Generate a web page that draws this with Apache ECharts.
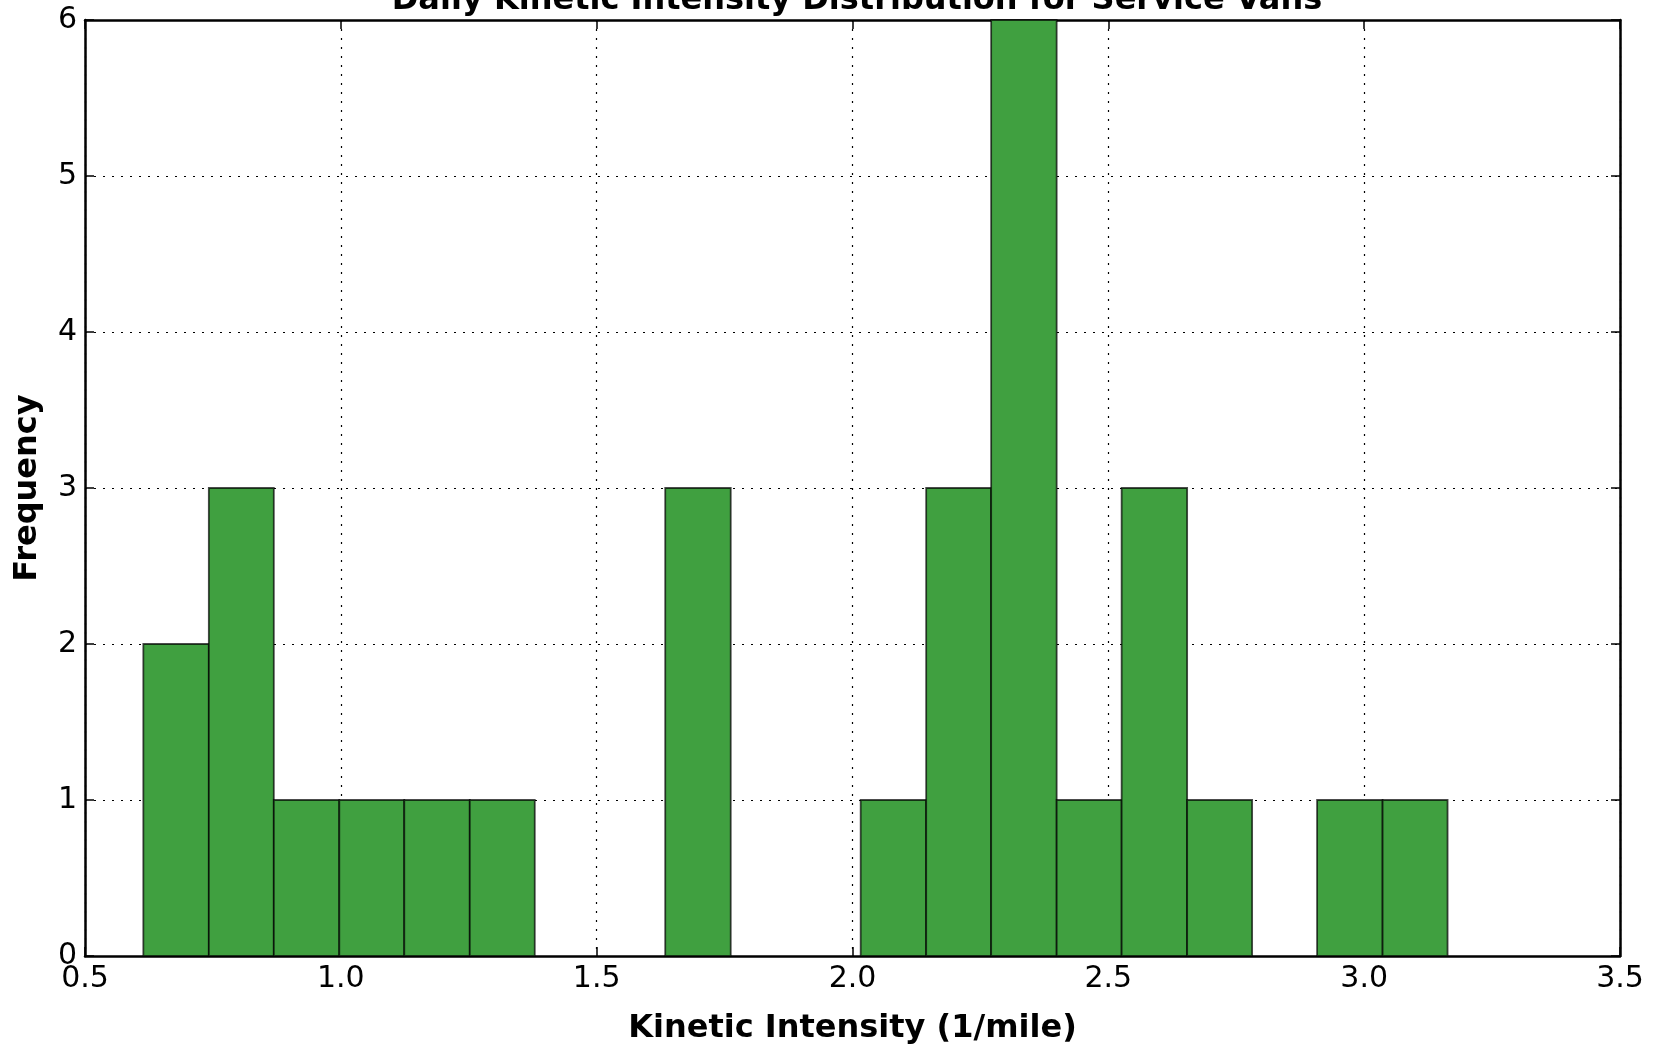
<!DOCTYPE html>
<html>
<head>
<meta charset="utf-8">
<script src="https://cdn.jsdelivr.net/npm/echarts@6/dist/echarts.min.js"></script>
<style>
html,body{margin:0;padding:0;background:#fff;}
#chart{width:1667px;height:1046px;}
</style>
</head>
<body>
<div id="chart"></div>
<script>
// Histogram bins
var binStart = [0.614, 0.742, 0.869, 0.997, 1.124, 1.252, 1.379, 1.507, 1.634, 1.762, 1.889, 2.016, 2.144, 2.271, 2.399, 2.526, 2.654, 2.781, 2.908, 3.036];
var binEnd   = [0.742, 0.869, 0.997, 1.124, 1.252, 1.379, 1.507, 1.634, 1.762, 1.889, 2.016, 2.144, 2.271, 2.399, 2.526, 2.654, 2.781, 2.908, 3.036, 3.163];
var counts   = [2, 3, 1, 1, 1, 1, 0, 0, 3, 0, 0, 1, 3, 6, 1, 3, 1, 0, 1, 1];
var xTicks = [0.5, 1.0, 1.5, 2.0, 2.5, 3.0, 3.5];
var yTicks = [0, 1, 2, 3, 4, 5, 6];

var titleText = 'Daily Kinetic Intensity Distribution for Service Vans';
var xLabel = 'Kinetic Intensity (1/mile)';
var yLabel = 'Frequency';

var data = [];
for (var i = 0; i < counts.length; i++) {
  if (counts[i] > 0) data.push([binStart[i], binEnd[i], counts[i]]);
}

var FONT = 'DejaVu Sans';
var chart = echarts.init(document.getElementById('chart'), null, {renderer: 'canvas'});

var gridLine = {show: true, lineStyle: {color: '#000', width: 1.2, type: [2, 7]}};
var frameLine = {show: true, onZero: false, lineStyle: {color: '#000', width: 2.5}};
var inTick = {show: true, inside: true, length: 9, lineStyle: {color: '#000', width: 1.5}};

var option = {
  backgroundColor: '#fff',
  animation: false,
  title: {
    text: titleText,
    left: 852, textAlign: 'center',
    top: -20,
    textStyle: {fontFamily: FONT, fontWeight: 'bold', fontSize: 32, color: '#000'}
  },
  grid: {left: 85, right: 47, top: 20, bottom: 90, containLabel: false, outerBoundsMode: 'none'},
  xAxis: [{
    type: 'value', min: xTicks[0], max: xTicks[xTicks.length - 1], interval: 0.5,
    name: xLabel, nameLocation: 'middle', nameGap: 57,
    nameTextStyle: {fontFamily: FONT, fontWeight: 'bold', fontSize: 32, color: '#000'},
    axisLine: frameLine,
    axisTick: inTick,
    axisLabel: {fontFamily: FONT, fontSize: 30, color: '#000', margin: 8,
      formatter: function (v) { return v.toFixed(1); }},
    splitLine: gridLine
  }, {
    type: 'value', position: 'top', min: xTicks[0], max: xTicks[xTicks.length - 1], interval: 0.5,
    axisLine: frameLine, axisTick: inTick,
    axisLabel: {show: false}, splitLine: {show: false}
  }],
  yAxis: [{
    type: 'value', min: yTicks[0], max: yTicks[yTicks.length - 1], interval: 1,
    name: yLabel, nameLocation: 'middle', nameGap: 41,
    nameTextStyle: {fontFamily: FONT, fontWeight: 'bold', fontSize: 32, color: '#000'},
    axisLine: frameLine,
    axisTick: inTick,
    axisLabel: {fontFamily: FONT, fontSize: 30, color: '#000', margin: 8},
    splitLine: gridLine
  }, {
    type: 'value', position: 'right', min: yTicks[0], max: yTicks[yTicks.length - 1], interval: 1,
    axisLine: frameLine, axisTick: inTick,
    axisLabel: {show: false}, splitLine: {show: false}
  }],
  series: [{
    type: 'custom',
    xAxisIndex: 0, yAxisIndex: 0,
    data: data,
    encode: {x: [0, 1], y: 2},
    renderItem: function (params, api) {
      var p0 = api.coord([api.value(0), api.value(2)]);
      var p1 = api.coord([api.value(1), 0]);
      return {
        type: 'rect',
        shape: {x: p0[0], y: p0[1], width: p1[0] - p0[0], height: p1[1] - p0[1]},
        style: {fill: '#40a040', stroke: 'rgba(0,0,0,0.7)', lineWidth: 1.8}
      };
    }
  }]
};
chart.setOption(option);
</script>
</body>
</html>
